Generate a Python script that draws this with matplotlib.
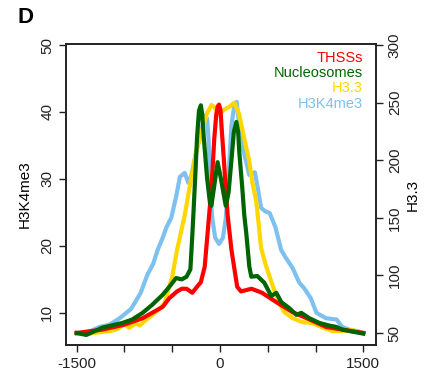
import matplotlib
matplotlib.use("Agg")
import matplotlib.pyplot as plt

plt.rcParams['font.family'] = ['Liberation Sans', 'DejaVu Sans']

# THSSs (left axis units)
x_thss = [-1500, -1230, -1010, -810, -600, -530, -450, -400, -350, -290, -240, -200, -160, -130,
          -100, -80, -60, -40, -25, -10, 5, 20, 40, 60, 80, 120, 180, 220, 330, 440, 590, 760,
          940, 1110, 1280, 1500]
y_thss = [7.0, 7.5, 8.2, 9.2, 10.9, 12.2, 13.2, 13.6, 13.6, 13.0, 13.9, 14.6, 16.9, 21.9,
          26.9, 30.9, 36.0, 39.5, 40.8, 41.1, 40.3, 37.0, 33.0, 28.5, 24.6, 19.4, 13.9, 13.2,
          13.6, 13.0, 11.6, 10.1, 9.0, 7.9, 7.5, 7.0]

# Nucleosomes (left axis units)
x_nuc = [-1500, -1400, -1230, -1020, -920, -810, -710, -600, -530, -460, -400, -350, -310, -290,
         -275, -260, -240, -220, -200, -185, -170, -135, -105, -90, -60, -25, 10, 60, 90, 118,
         145, 171, 190, 202, 233, 254, 275, 307, 328, 390, 464, 537, 589, 642, 726, 799, 851,
         935, 1039, 1144, 1217, 1280, 1385, 1500]
y_nuc = [7.0, 6.7, 7.8, 8.5, 9.0, 10.0, 11.2, 12.7, 13.9, 15.2, 15.0, 15.4, 16.5, 21.5,
         25.7, 30.1, 36.2, 40.2, 41.0, 39.5, 36.2, 30.1, 26.4, 26.0, 29.0, 32.5, 30.0, 26.0,
         28.0, 32.5, 37.0, 38.5, 37.0, 34.0, 28.7, 24.6, 21.9, 16.9, 15.4, 15.5, 14.5, 12.5,
         13.0, 11.6, 10.7, 9.7, 10.0, 9.2, 8.5, 8.1, 7.9, 7.5, 7.2, 6.9]

# H3.3 (right axis)
x_h33 = [-1500, -1370, -1230, -1130, -1060, -1000, -950, -880, -840, -780, -690, -620, -580,
         -550, -500, -450, -370, -300, -250, -200, -140, -90, -60, -10, 45, 100, 150, 200, 230,
         275, 307, 338, 380, 430, 475, 515, 560, 620, 675, 760, 860, 965, 1070, 1175, 1280,
         1385, 1490]
y_h33 = [50, 49.5, 51, 52, 54, 58, 54.5, 58.5, 56.5, 61, 67, 72, 76,
         85, 99, 122, 152, 185, 207, 222, 240, 248, 246, 240, 244, 246.5, 250, 240, 228,
         211, 199, 181, 164, 124, 110, 100, 89, 76, 68, 63, 59.5, 58.7, 55, 51.7, 51.7,
         52.6, 50]

# H3K4me3 (left axis)
x_k4 = [-1500, -1400, -1260, -1160, -1050, -930, -830, -760, -700, -650, -600, -560, -510,
        -460, -420, -370, -330, -300, -250, -200, -160, -135, -120, -100, -80, -50, -10, 30,
        60, 80, 100, 120, 150, 175, 200, 230, 275, 307, 340, 365, 390, 430, 470, 520, 580,
        640, 690, 760, 830, 880, 950, 1010, 1110, 1220, 1280, 1350, 1460, 1500]
y_k4 = [6.9, 7.0, 7.9, 8.2, 9.2, 10.6, 13.0, 15.7, 17.3, 19.5, 21.2, 22.8, 24.2,
        27.3, 30.3, 30.9, 29.4, 30.5, 34.0, 36.8, 39.5, 39.0, 36.0, 28.0, 24.0, 21.2, 20.3, 21.2,
        24.0, 28.0, 33.0, 38.0, 41.0, 41.5, 38.1, 35.0, 32.5, 30.6, 30.8, 31.0, 29.1, 25.7,
        25.2, 24.9, 22.8, 19.4, 18.2, 16.7, 14.5, 13.7, 12.2, 10.0, 9.2, 9.0, 7.9, 7.5, 7.2, 7.0]

legend_labels = ["THSSs", "Nucleosomes", "H3.3", "H3K4me3"]
colors = ["#FF0000", "#006400", "#FFD700", "#7EC0EE"]

fig = plt.figure(figsize=(4.27, 3.87), dpi=100)
ax = fig.add_axes([66 / 427, 42 / 387, 310 / 427, 301 / 387])
ax2 = ax.twinx()

ax.set_xlim(-1612, 1633)
ax.set_ylim(5.2, 50.15)
ax2.set_ylim(39.6, 300.9)

lw = 3
ax.plot(x_k4, y_k4, color=colors[3], lw=lw, solid_joinstyle='round', zorder=2)
ax.plot(x_h33, y_h33, color=colors[2], lw=lw, solid_joinstyle='round', zorder=3,
        transform=ax2.transData)
ax.plot(x_thss, y_thss, color=colors[0], lw=lw, solid_joinstyle='round', zorder=4)
ax.plot(x_nuc, y_nuc, color=colors[1], lw=lw, solid_joinstyle='round', zorder=5)

ax.set_xticks([-1500, -1000, -500, 0, 500, 1000, 1500])
ax.set_xticklabels(['-1500', '', '', '0', '', '', '1500'])
ax.set_yticks([10, 20, 30, 40, 50])
ax2.set_yticks([50, 100, 150, 200, 250, 300])

for a in (ax, ax2):
    a.tick_params(direction='out', length=5, width=1, labelsize=11, colors='#222222')
    for s in a.spines.values():
        s.set_linewidth(1.2)
        s.set_color('#222222')
for lab in ax.get_yticklabels() + ax2.get_yticklabels():
    lab.set_rotation(90)
    lab.set_va('center')

ax.set_ylabel("H3K4me3", fontsize=11, labelpad=6)
ax2.set_ylabel("H3.3", fontsize=11, rotation=90, labelpad=3)

ypos = [0.953, 0.904, 0.854, 0.801]
for lab, c, yp in zip(legend_labels, colors, ypos):
    ax.text(0.958, yp, lab, color=c, fontsize=10.5, ha='right', va='center',
            transform=ax.transAxes)

fig.text(0.042, 0.955, "D", fontsize=16, fontweight='bold', ha='left', va='center')

fig.savefig("out.png", dpi=100)
